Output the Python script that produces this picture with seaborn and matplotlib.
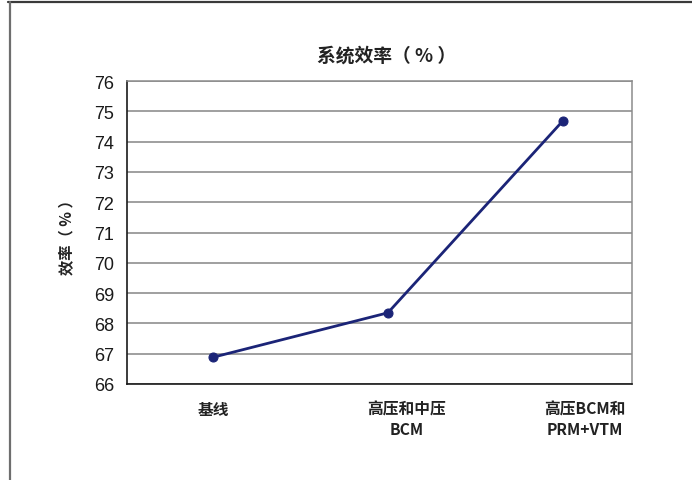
import matplotlib
matplotlib.use("Agg")
import matplotlib.pyplot as plt
import matplotlib.transforms as mtransforms
from matplotlib.lines import Line2D
import numpy as np
import pandas as pd
import seaborn as sns

# Data
categories = ["基线", "高压和中压\nBCM", "高压BCM和\nPRM+VTM"]
efficiency = [66.88, 68.35, 74.69]
y_ticks = [66, 67, 68, 69, 70, 71, 72, 73, 74, 75, 76]

sns.set_theme(style="white")
plt.rcParams["font.family"] = ["Noto Sans CJK SC", "DejaVu Sans"]

df = pd.DataFrame({"pos": np.arange(len(categories)), "eff": efficiency})

fig = plt.figure(figsize=(6.92, 4.81), dpi=100)
ax = fig.add_axes([0.1835, 0.1996, 0.7298, 0.6299])

navy = "#1b2477"
sns.lineplot(data=df, x="pos", y="eff", ax=ax, sort=False, color=navy,
             linewidth=2.0, marker="o", markersize=6.5,
             markeredgecolor=navy, markerfacecolor=navy)

ax.set_ylim(66, 76)
ax.set_xlim(-0.49, 2.394)
ax.set_yticks(y_ticks)
ax.set_yticklabels([str(v) for v in y_ticks], fontfamily="Liberation Sans",
                   fontsize=13, color="#1a1a1a")
ax.set_xticks(df["pos"])
ax.set_xticklabels(categories, fontsize=11.3, fontweight="bold",
                   color="#222222", linespacing=1.35)
ax.tick_params(axis="both", length=0)
ax.tick_params(axis="y", pad=9)
ax.tick_params(axis="x", pad=12)

# nudge the two right-hand category labels to sit a little right of their points
offsets_px = [1, 19, 22]
for lab, dx in zip(ax.get_xticklabels(), offsets_px):
    lab.set_transform(lab.get_transform() +
                      mtransforms.ScaledTranslation(dx / 100, 0, fig.dpi_scale_trans))

ax.grid(axis="y", color="#858585", linewidth=1.1)
ax.set_axisbelow(True)
for side in ["top", "right"]:
    ax.spines[side].set_color("#8c8c8c")
    ax.spines[side].set_linewidth(1.1)
for side in ["left", "bottom"]:
    ax.spines[side].set_color("#1a1a1a")
    ax.spines[side].set_linewidth(1.2)

ax.set_xlabel("")
ax.set_ylabel("效率（ % ）", fontsize=11, fontweight="bold", color="#222222",
              labelpad=14)

fig.text(0.558, 0.884, "系统效率（ % ）", ha="center", va="center",
         fontsize=13.5, fontweight="bold", color="#222222")

# outer frame: top and left edges
fig.add_artist(Line2D([0.012, 1.0], [0.993, 0.993], transform=fig.transFigure,
                      color="#3a3a3a", linewidth=1.6))
fig.add_artist(Line2D([0.0145, 0.0145], [0.0, 0.993], transform=fig.transFigure,
                      color="#6e6e6e", linewidth=1.6))

fig.savefig("out.png", dpi=100)
